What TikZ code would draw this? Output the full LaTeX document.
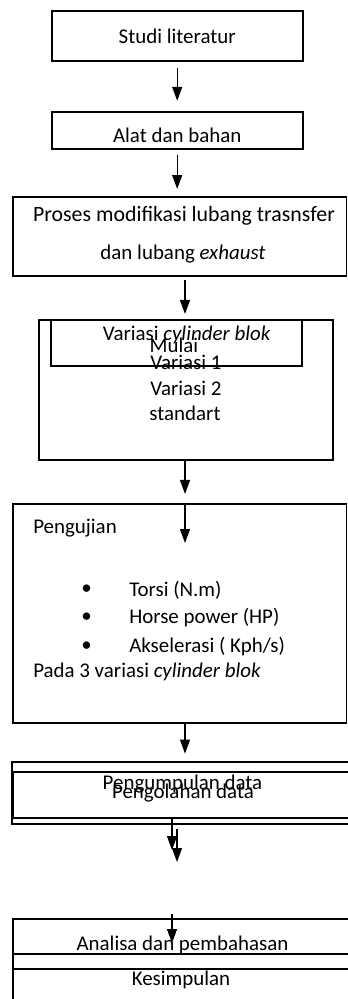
\documentclass[tikz,border=0pt]{standalone}
\usepackage{fontspec}
\setmainfont{Carlito}
\usetikzlibrary{arrows.meta}
\tikzstyle{every node}=[inner sep=0pt, font=\fontsize{15.7}{19}\selectfont]
\tikzstyle{box}=[draw=black, line width=1.45pt, rectangle]
\tikzstyle{arr}=[line width=0.9pt, -{Triangle[width=7.5pt,length=10.5pt]}]

\begin{document}
\begin{tikzpicture}[x=0.75pt, y=-0.75pt]
  \useasboundingbox (0,0) rectangle (347,999);
  \node[box, minimum width=251*0.75pt, minimum height=50.6*0.75pt] (studi) at (177.2,36) {Studi literatur};
  \node[box, minimum width=251*0.75pt, minimum height=37.3*0.75pt] (alat) at (177.2,130.65) {};
  \node (alattxt) at (177.2,135) {Alat dan bahan};
  \node[box, minimum width=333.8*0.75pt, minimum height=78.7*0.75pt] (proses) at (179.6,236.65) {};
  \node[font=\fontsize{16.4}{19}\selectfont] (prosestxt1) at (184,216) {Proses modifikasi lubang trasnsfer};
  \node (prosestxt2) at (183,254) {dan lubang \textit{exhaust}};
  \node[box, minimum width=294*0.75pt, minimum height=140*0.75pt] (varbig) at (186.3,390) {};
  \node[box, minimum width=250.7*0.75pt, minimum height=45.7*0.75pt] (varsmall) at (176.35,342.85) {};
  \node (vartxt) at (186.7,335) {Variasi \textit{cylinder blok}};
  \node (mulai) at (174,345) {Mulai};
  \node (var1) at (186,362) {Variasi 1};
  \node (var2) at (186,388) {Variasi 2};
  \node (std) at (185,413) {standart};
  \node[box, minimum width=333.8*0.75pt, minimum height=218.7*0.75pt] (uji) at (179.6,613.35) {};
  \node[anchor=west] (ujitxt) at (33,528) {Pengujian};
  \node (b1) at (86.7,590) {•};
  \node (b2) at (86.7,618) {•};
  \node (b3) at (86.7,647) {•};
  \node[anchor=west] (torsi) at (129,590) {Torsi (N.m)};
  \node[anchor=west] (hp) at (129,618) {Horse power (HP)};
  \node[anchor=west] (aks) at (129,647) {Akselerasi ( Kph/s)};
  \node[anchor=west] (pada) at (33,672) {Pada 3 variasi \textit{cylinder blok}};
  \node[box, minimum width=348.3*0.75pt, minimum height=61.7*0.75pt] (kumpul) at (185.85,793.15) {};
  \node[box, minimum width=346.7*0.75pt, minimum height=46.3*0.75pt] (olah) at (186.65,794.85) {};
  \node (kumpultxt) at (182.5,784) {Pengumpulan data};
  \node (olahtxt) at (183,793) {Pengolahan data};
  \node[box, minimum width=347.3*0.75pt, minimum height=50*0.75pt] (analisa) at (186.35,944) {};
  \node[box, minimum width=347.3*0.75pt, minimum height=56*0.75pt] (simpul) at (186.35,982) {};
  \node (analisatxt) at (182.5,945) {Analisa dan pembahasan};
  \node (simpultxt) at (181,980) {Kesimpulan};
  \coordinate (ujitip) at (185,543);
  \coordinate (tipA) at (172,850);
  \coordinate (tipB) at (177,862);
  \coordinate (tipC) at (172,943);
  \draw[arr, shorten <=4pt, shorten >=7.7pt] (studi.south) -- (alat.north);
  \draw[arr, shorten <=3.5pt, shorten >=5.5pt] (alat.south) -- (alat.south |- proses.north);
  \draw[arr, shorten <=2.2pt, shorten >=3.8pt] (proses.south -| ujitip) -- (varbig.north -| ujitip);
  \draw[arr, shorten >=6.8pt] (varbig.south -| ujitip) -- (uji.north -| ujitip);
  \draw[arr] (uji.north -| ujitip) -- (ujitip);
  \draw[arr, shorten >=5.8pt] (uji.south -| ujitip) -- (kumpul.north -| ujitip);
  \draw[arr] (olah.south -| tipA) -- (tipA);
  \draw[arr, shorten <=3pt] (kumpul.south -| tipB) -- (tipB);
  \draw[arr, shorten <=-3pt] (analisa.north -| tipC) -- (tipC);
\end{tikzpicture}
\end{document}
